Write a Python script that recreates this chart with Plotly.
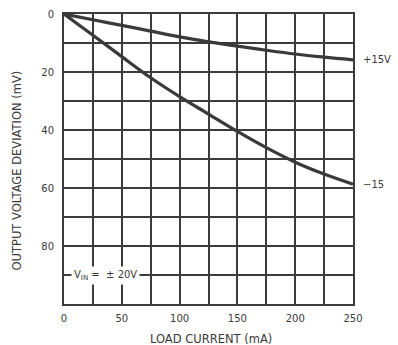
import plotly.graph_objects as go

load_current = [0, 25, 50, 75, 100, 125, 150, 175, 200, 225, 250]
dev_pos15 = [0, 2.0, 3.9, 5.9, 7.9, 9.6, 11.1, 12.5, 13.8, 14.9, 15.8]
dev_neg15 = [0, 7.3, 14.7, 22.0, 28.5, 34.5, 40.5, 46.1, 51.1, 55.2, 58.7]
x_ticks = [0, 50, 100, 150, 200, 250]
y_ticks = [0, 20, 40, 60, 80]

ink = "#3a3a3a"
grid = "#3c3c3c"
font = "DejaVu Sans"

fig = go.Figure()
fig.add_trace(go.Scatter(x=load_current, y=dev_pos15, mode="lines",
                         line=dict(color=ink, width=3.2, shape="spline"), showlegend=False))
fig.add_trace(go.Scatter(x=load_current, y=dev_neg15, mode="lines",
                         line=dict(color=ink, width=3.2, shape="spline"), showlegend=False))

fig.add_annotation(x=250, y=dev_pos15[-1], text="+15V", xref="x", yref="y",
                   xanchor="left", xshift=8, showarrow=False,
                   font=dict(family=font, size=10, color=ink))
fig.add_annotation(x=250, y=dev_neg15[-1], text="\u221215", xref="x", yref="y",
                   xanchor="left", xshift=8, showarrow=False,
                   font=dict(family=font, size=10, color=ink))
fig.add_annotation(x=36, y=90, text="V<sub>IN</sub> =  \u00b1 20V", xref="x", yref="y",
                   showarrow=False, bgcolor="white", borderpad=2,
                   font=dict(family=font, size=10, color=ink))
fig.add_annotation(x=0.507, y=-0.12, xref="paper", yref="paper", text="LOAD CURRENT (mA)",
                   showarrow=False, xanchor="center", yanchor="middle",
                   font=dict(family=font, size=11.5, color=ink))
fig.add_annotation(x=-0.163, y=0.46, xref="paper", yref="paper",
                   text="OUTPUT VOLTAGE DEVIATION (mV)", textangle=-90,
                   showarrow=False, xanchor="center", yanchor="middle",
                   font=dict(family=font, size=11.5, color=ink))

fig.update_layout(
    width=398, height=345,
    margin=dict(l=64, r=45, t=14, b=41),
    paper_bgcolor="white", plot_bgcolor="white",
    font=dict(family=font, size=10, color=ink),
    xaxis=dict(range=[0, 250], tickvals=x_ticks, showgrid=True, gridcolor=grid, gridwidth=1.5,
               minor=dict(dtick=25, showgrid=True, gridcolor=grid, gridwidth=1.5),
               showline=True, linecolor=grid, linewidth=2, mirror=True, zeroline=False,
               ticks="outside", ticklen=4, tickcolor="rgba(0,0,0,0)", automargin=False),
    yaxis=dict(range=[100, 0], tickvals=y_ticks, showgrid=True, gridcolor=grid, gridwidth=1.5,
               minor=dict(dtick=10, showgrid=True, gridcolor=grid, gridwidth=1.5),
               showline=True, linecolor=grid, linewidth=2, mirror=True, zeroline=False,
               ticks="outside", ticklen=6, tickcolor="rgba(0,0,0,0)", automargin=False),
)

fig.write_html("out.html", config={"displayModeBar": False},
               post_script="document.body.style.margin='0';")
